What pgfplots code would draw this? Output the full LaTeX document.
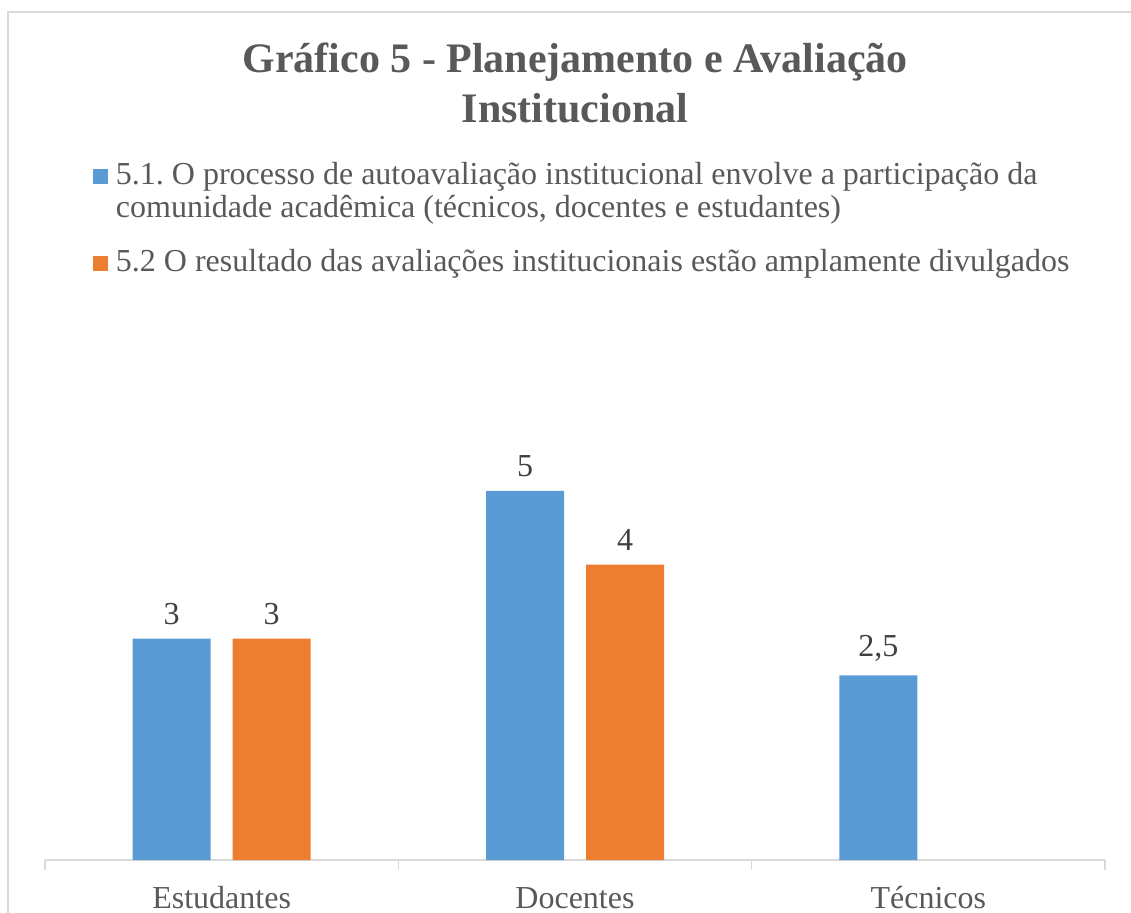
\documentclass[border=0pt]{standalone}
\usepackage{fontspec}
\setmainfont{Liberation Serif}
\usepackage{pgfplots}
\pgfplotsset{compat=1.18}
\frenchspacing
\definecolor{barblue}{HTML}{5B9BD5}
\definecolor{barorange}{HTML}{ED7D31}
\definecolor{txtgray}{HTML}{595959}
\definecolor{lblgray}{HTML}{404040}
\definecolor{linegray}{HTML}{D9D9D9}
\begin{document}
\begin{tikzpicture}
\useasboundingbox (-22.5pt,-26pt) rectangle (543pt,430pt);
% chart frame (only top and left edges are inside the crop)
\draw[linegray, line width=0.8pt] (-18.5pt,-40pt) -- (-18.5pt,424pt) -- (560pt,424pt);
\begin{axis}[
  at={(0pt,0pt)}, anchor=south west,
  scale only axis, width=530pt, height=221.5pt,
  ybar, bar width=39pt,
  xmin=-0.5, xmax=2.5, ymin=0, ymax=6,
  axis y line=none, axis x line*=bottom,
  x axis line style={linegray, line width=0.8pt, -},
  xtick={0,1,2}, xticklabels={Estudantes,Docentes,Técnicos},
  minor xtick={-0.5,0.5,1.5,2.5},
  major tick length=0pt, minor tick length=5pt, tick align=outside,
  minor tick style={linegray, line width=0.8pt},
  xticklabel style={font=\fontsize{16}{19}\selectfont, text=txtgray, anchor=base, yshift=-24pt},
  nodes near coords,
  every node near coord/.append style={font=\fontsize{16}{19}\selectfont, text=lblgray, yshift=3.5pt},
  /pgf/number format/use comma,
  /pgf/number format/assume math mode=true,
  title={Gráfico 5 - Planejamento e Avaliação\\Institucional},
  title style={font=\bfseries\fontsize{21}{25}\selectfont, text=txtgray, align=center, at={(0.5,1.818)}, anchor=north, inner sep=0pt},
  legend style={at={(0.04528,1.5756)}, anchor=north west, draw=none, fill=none, inner sep=0pt, outer sep=0pt,
    row sep=0pt, column sep=4pt, font=\fontsize{16}{19}\selectfont, text=txtgray,
    cells={anchor=base west}, nodes={inner sep=0pt, text height=11pt, text depth=5.5pt}},
  legend image code/.code={\fill[#1] (0pt,0pt) rectangle (7.5pt,7.5pt);},
]
\addplot[fill=barblue, draw=none, bar shift=-25pt] coordinates {(0,3) (1,5) (2,2.5)};
\addlegendentry{5.1. O processo de autoavaliação institucional envolve a participação da}
\addlegendimage{empty legend}
\addlegendentry{comunidade acadêmica (técnicos, docentes e estudantes)}
\addplot[fill=barorange, draw=none, bar shift=25pt] coordinates {(0,3) (1,4)};
\addlegendentry[text height=21.5pt]{5.2 O resultado das avaliações institucionais estão amplamente divulgados}
\end{axis}
\end{tikzpicture}
\end{document}
